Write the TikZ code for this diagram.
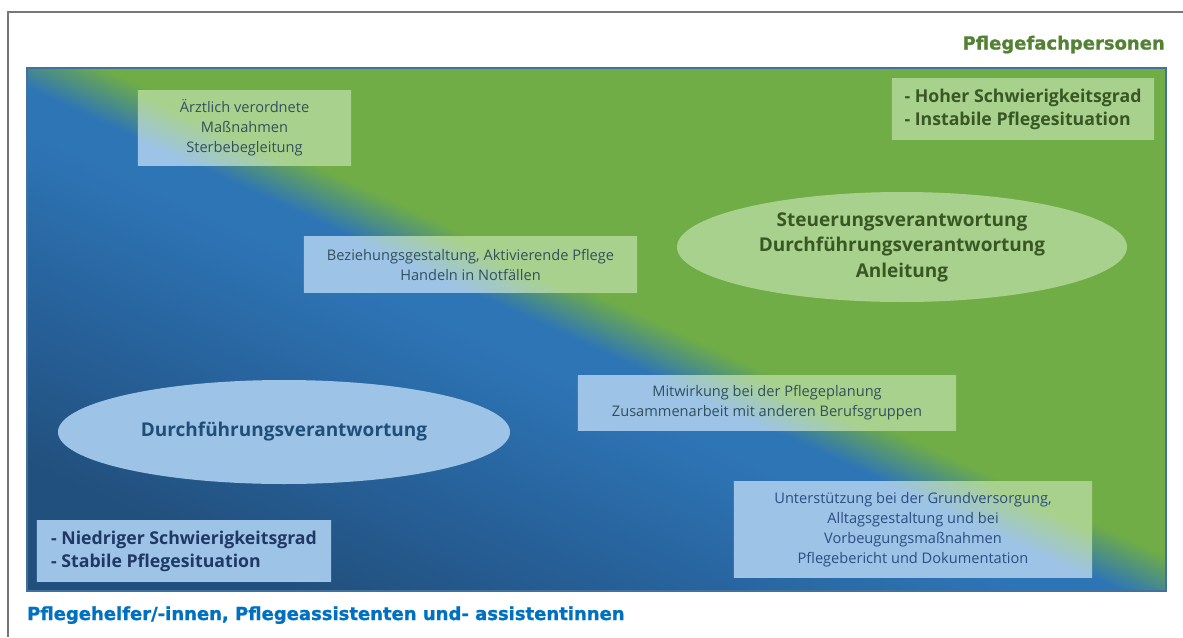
\documentclass[tikz,border=0pt]{standalone}
\usepackage{fontspec}
\setmainfont{Open Sans}
\newfontfamily\headfont[BoldFeatures={FakeBold=1.2}]{DejaVu Sans}
\usetikzlibrary{shapes,positioning}

\definecolor{bluedark}{RGB}{34,80,126}
\definecolor{bluedeep}{RGB}{40,101,160}
\definecolor{bluemid}{RGB}{46,117,182}
\definecolor{greenmain}{RGB}{112,173,71}
\definecolor{bluelight}{RGB}{157,195,230}
\definecolor{greenlight}{RGB}{169,209,142}
\definecolor{greentext}{RGB}{56,87,35}
\definecolor{bluetext}{RGB}{31,56,100}
\definecolor{ovaltext}{RGB}{31,78,121}
\definecolor{slatetext}{RGB}{44,78,130}
\definecolor{mixtext}{RGB}{50,80,92}
\definecolor{headgreen}{RGB}{84,130,53}
\definecolor{headblue}{RGB}{0,112,192}
\definecolor{frameblue}{RGB}{65,113,156}
\definecolor{outergray}{RGB}{118,118,118}

\pgfdeclareverticalshading{diagdark}{100bp}{color(0bp)=(bluedark); color(25bp)=(bluedark); color(37.5bp)=(bluedeep); color(46bp)=(bluemid); color(48.75bp)=(bluemid); color(52.25bp)=(greenmain); color(100bp)=(greenmain)}
\pgfdeclareverticalshading{diaglight}{100bp}{color(0bp)=(bluelight); color(48.6bp)=(bluelight); color(51.6bp)=(greenlight); color(100bp)=(greenlight)}

\pgfdeclarelayer{bg}
\pgfsetlayers{bg,main}

\begin{document}
\begin{tikzpicture}[x=1pt,y=-1pt]
    \tikzset {
      textbox/.style={rectangle,inner sep=0pt,align=center,font=\fontsize{14.6}{20}\selectfont},
      listbox/.style={rectangle,inner sep=0pt,align=left,font=\bfseries\fontsize{17.7}{23}\selectfont},
      oval/.style={ellipse,inner sep=0pt,align=center,font=\bfseries\fontsize{19}{25.5}\selectfont},
      heading/.style={inner sep=0pt,font=\headfont\bfseries\fontsize{18}{20}\selectfont},
      diagonal/.style={shading=#1,shading angle=-24.66}
    }
    \useasboundingbox (0,0) rectangle (1183,637);
    \coordinate (nw) at (27,68);
    \coordinate (se) at (1166,591);
    \coordinate (pagebl) at (8,637);
    \coordinate (pagetl) at (8,12);
    \coordinate (pagetr) at (1183,12);
    \draw [outergray,line width=1.2pt] (pagebl) -- (pagetl) -- (pagetr);

    \node [textbox,minimum width=213pt,minimum height=74pt,text=mixtext] (aerzt) at (244.5,128) {Ärztlich verordnete\\Maßnahmen\\Sterbebegleitung};
    \node [textbox,minimum width=333pt,minimum height=55pt,text=mixtext] (bez) at (470.5,264.5) {Beziehungsgestaltung, Aktivierende Pflege\\Handeln in Notfällen};
    \node [textbox,minimum width=378pt,minimum height=54pt,text=mixtext] (mitw) at (767,403) {Mitwirkung bei der Pflegeplanung\\Zusammenarbeit mit anderen Berufsgruppen};
    \node [textbox,minimum width=358pt,minimum height=95pt,text=slatetext] (unterst) at (913,529.5) {Unterstützung bei der Grundversorgung,\\Alltagsgestaltung und bei\\Vorbeugungsmaßnahmen\\Pflegebericht und Dokumentation};
    \node [listbox,minimum width=262pt,minimum height=60pt,text=greentext] (hoher) at (1023,109) {- Hoher Schwierigkeitsgrad\\- Instabile Pflegesituation};
    \node [listbox,minimum width=294pt,minimum height=60pt,text=bluetext] (niedrig) at (184,551) {- Niedriger Schwierigkeitsgrad\\- Stabile Pflegesituation};
    \node [oval,minimum width=450pt,minimum height=110pt,fill=greenlight,text=greentext] (steuer) at (902,247) {Steuerungsverantwortung\\Durchführungsverantwortung\\Anleitung};
    \node [oval,minimum width=452pt,minimum height=104pt,fill=bluelight,text=ovaltext] (durch) at (284,432) {Durchführungsverantwortung};

    \node [heading,text=headgreen,anchor=base east] (fach) at (1165,49.5) {Pflegefachpersonen};
    \node [heading,text=headblue,anchor=base west] (helfer) at (27,620) {Pflegehelfer/-innen, Pflegeassistenten und- assistentinnen};

    \begin{pgfonlayer}{bg}
      \shade [diagonal=diagdark] (nw) rectangle (se);
      \foreach \b in {aerzt,bez,mitw,unterst,hoher,niedrig} {
        \begin{scope}
          \clip (\b.south west) rectangle (\b.north east);
          \shade [diagonal=diaglight] (nw) rectangle (se);
        \end{scope}
      }
    \end{pgfonlayer}
    \draw [frameblue,line width=2pt] (nw) rectangle (se);
\end{tikzpicture}
\end{document}
